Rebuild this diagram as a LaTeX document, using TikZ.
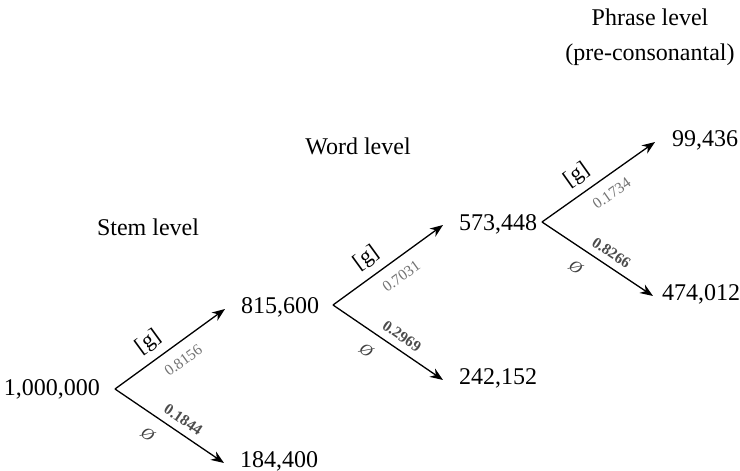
\documentclass[tikz,border=0pt]{standalone}
\usepackage{fontspec}
\setmainfont{Liberation Serif}
\usetikzlibrary{arrows.meta}
\begin{document}
\begin{tikzpicture}[x=1pt,y=-1pt,
  count/.style={font=\fontsize{24}{28}\selectfont, inner sep=0pt},
  header/.style={font=\fontsize{24}{35}\selectfont, inner sep=0pt, align=center},
  arr/.style={-{Stealth[length=13pt,width=10pt]}, line width=1.3pt},
  glab/.style={font=\fontsize{22}{24}\selectfont, sloped, inner sep=0pt, pos=0.4, yshift=18pt},
  plab/.style={font=\fontsize{15.5}{17}\selectfont, text=black!55, sloped, inner sep=0pt, pos=0.53, yshift=-17pt},
  blab/.style={font=\bfseries\fontsize{15.5}{17}\selectfont, text=black!70, sloped, inner sep=0pt, pos=0.56, yshift=13pt},
  zlab/.style={font=\itshape\fontsize{17}{19}\selectfont, text=black!75, sloped, inner sep=0pt, pos=0.4, yshift=-19pt}
]
\useasboundingbox (0,0) rectangle (740,471);

% headers
\node[header] (hstem) at (148,227) {Stem level};
\node[header] (hword) at (358,146) {Word level};
\node[header] (hphrase) at (650,37) {Phrase level\\(pre-consonantal)};

% counts
\node[count, anchor=east] (n1) at (100,389) {1,000,000};
\node[count, anchor=west] (n2) at (241,307) {815,600};
\node[count, anchor=west] (n3) at (240,461) {184,400};
\node[count, anchor=west] (n4) at (459,224) {573,448};
\node[count, anchor=west] (n5) at (459,378) {242,152};
\node[count, anchor=west] (n6) at (672,140) {99,436};
\node[count, anchor=west] (n7) at (662,294) {474,012};

% branch points
\coordinate (v1) at (115,389);
\coordinate (v2) at (333,305);
\coordinate (v3) at (542,222);

% tree 1
\draw[arr] (v1) -- ([xshift=-16pt,yshift=-2pt]n2.west)
  node[glab] {[g]} node[plab] {0.8156};
\draw[arr] (v1) -- ([xshift=-16pt,yshift=-2pt]n3.west)
  node[blab] {0.1844} node[zlab] {Ø};
% tree 2
\draw[arr] (v2) -- ([xshift=-16pt,yshift=-1pt]n4.west)
  node[glab] {[g]} node[plab] {0.7031};
\draw[arr] (v2) -- ([xshift=-16pt,yshift=-2pt]n5.west)
  node[blab] {0.2969} node[zlab] {Ø};
% tree 3
\draw[arr] (v3) -- ([xshift=-17pt,yshift=-2pt]n6.west)
  node[glab] {[g]} node[plab] {0.1734};
\draw[arr] (v3) -- ([xshift=-9pt,yshift=-2pt]n7.west)
  node[blab] {0.8266} node[zlab] {Ø};
\end{tikzpicture}
\end{document}
